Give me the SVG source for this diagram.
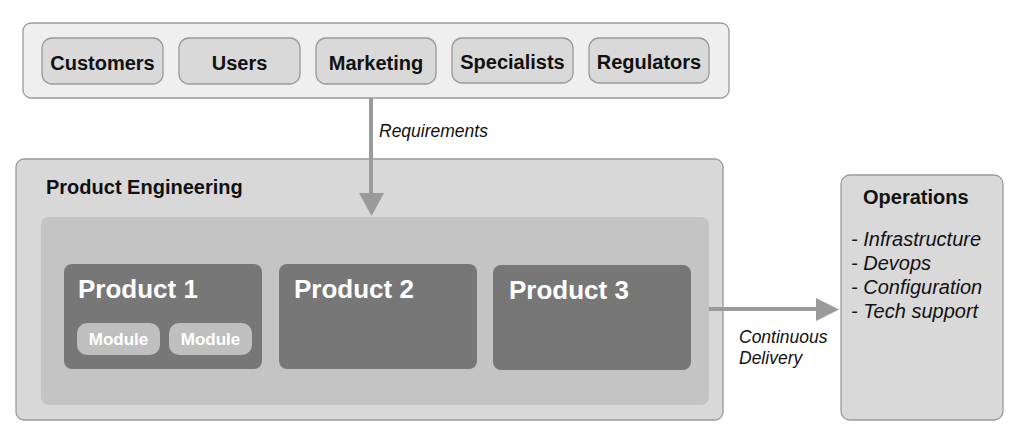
<svg xmlns="http://www.w3.org/2000/svg" width="1024" height="441" viewBox="0 0 1024 441">
<defs>
<style>
.stk{fill:#d9d9d9;stroke:#9a9a9a;stroke-width:1.3}
.stkt{font-family:"Liberation Sans",Arial,sans-serif;font-weight:bold;font-size:20px;fill:#111;text-anchor:middle}
.prod{fill:#777777}
.prodt{font-family:"Liberation Sans",Arial,sans-serif;font-weight:bold;font-size:26px;fill:#fff}
.mod{fill:#bfbfbf}
.modt{font-family:"Liberation Sans",Arial,sans-serif;font-weight:bold;font-size:17px;fill:#fff;text-anchor:middle}
.lbl{font-family:"Liberation Sans",Arial,sans-serif;font-style:italic;font-size:17.5px;fill:#111}
.ops{font-family:"Liberation Sans",Arial,sans-serif;font-style:italic;font-size:20px;fill:#111}
.conn{stroke:#9a9a9a;stroke-width:4;fill:none}
.head{fill:#9a9a9a}
</style>
</defs>
<rect width="1024" height="441" fill="#fff"/>
<g id="stakeholders">
<rect x="23" y="23" width="706" height="75" rx="8" fill="#efefef" stroke="#9a9a9a" stroke-width="1.3"/>
<g id="customers"><rect class="stk" x="42" y="38" width="121" height="46" rx="10"/><text class="stkt" x="102.5" y="70">Customers</text></g>
<g id="users"><rect class="stk" x="179" y="38" width="121" height="46" rx="10"/><text class="stkt" x="239.5" y="70">Users</text></g>
<g id="marketing"><rect class="stk" x="316" y="38" width="120" height="46" rx="10"/><text class="stkt" x="376" y="70">Marketing</text></g>
<g id="specialists"><rect class="stk" x="452" y="38" width="121" height="45" rx="10"/><text class="stkt" x="512.5" y="69">Specialists</text></g>
<g id="regulators"><rect class="stk" x="589" y="38" width="120" height="45" rx="10"/><text class="stkt" x="649" y="69">Regulators</text></g>
</g>
<g id="product-engineering">
<rect x="16" y="159" width="707" height="261" rx="8" fill="#d8d8d8" stroke="#9a9a9a" stroke-width="1.3"/>
<text x="46" y="194" font-family="'Liberation Sans',Arial,sans-serif" font-weight="bold" font-size="20" fill="#111">Product Engineering</text>
<rect x="41" y="217" width="668" height="188" rx="8" fill="#c4c4c4"/>
<g id="product1">
<rect class="prod" x="64" y="264" width="198" height="105" rx="8"/>
<text class="prodt" x="78" y="298">Product 1</text>
<g id="module1"><rect class="mod" x="77" y="323" width="83" height="32" rx="10"/><text class="modt" x="118.5" y="345">Module</text></g>
<g id="module2"><rect class="mod" x="169" y="323" width="83" height="32" rx="10"/><text class="modt" x="210.5" y="345">Module</text></g>
</g>
<g id="product2">
<rect class="prod" x="279" y="264" width="198" height="105" rx="8"/>
<text class="prodt" x="294" y="298">Product 2</text>
</g>
<g id="product3">
<rect class="prod" x="493" y="265" width="198" height="105" rx="8"/>
<text class="prodt" x="509" y="299">Product 3</text>
</g>
</g>
<g id="operations">
<rect x="841" y="175" width="162" height="245" rx="9" fill="#d9d9d9" stroke="#9a9a9a" stroke-width="1.3"/>
<text x="863" y="204" font-family="'Liberation Sans',Arial,sans-serif" font-weight="bold" font-size="20" fill="#111">Operations</text>
<text class="ops" x="851" y="246">- Infrastructure</text>
<text class="ops" x="851" y="270">- Devops</text>
<text class="ops" x="851" y="294">- Configuration</text>
<text class="ops" x="851" y="318">- Tech support</text>
</g>
<g id="connectors">
<line class="conn" x1="371" y1="98" x2="371" y2="194"/>
<polygon class="head" points="359,193 384,193 371.5,216"/>
<text class="lbl" x="379" y="137">Requirements</text>
<line class="conn" x1="709" y1="309" x2="817" y2="309"/>
<polygon class="head" points="816,298 816,321 839,309.5"/>
<text class="lbl" x="739" y="343">Continuous</text>
<text class="lbl" x="739" y="364">Delivery</text>
</g>
</svg>
